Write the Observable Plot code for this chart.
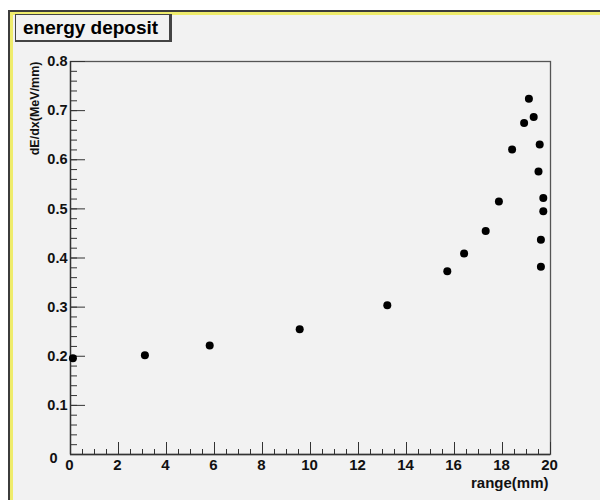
<!DOCTYPE html>
<html><head><meta charset="utf-8">
<script src="https://cdn.jsdelivr.net/npm/d3@7"></script>
<script src="https://cdn.jsdelivr.net/npm/@observablehq/plot@0.6"></script>
<style>
html,body{margin:0;padding:0;background:#fff;width:600px;height:500px;overflow:hidden;font-family:"Liberation Sans",Arial,sans-serif;}
#pad{position:absolute;left:8px;top:10px;width:640px;height:540px;background:#f2f2f2;border-left:2px solid #3c3c3c;border-top:2px solid #3c3c3c;box-shadow:inset 3px 3px 0 #efec6c;}
#title{position:absolute;left:15px;top:14px;width:146px;height:25px;border:1px solid #444;border-right-width:3px;border-bottom-width:2px;background:#f2f2f2;font-weight:bold;font-size:19px;line-height:25px;padding-left:7px;color:#000;z-index:2;white-space:nowrap;}
#chart{position:absolute;left:0;top:0;}
</style></head><body>
<div id="pad"></div>
<div id="chart"></div>
<div id="title">energy deposit</div>
<script>
// data
const rangeMm = [0.1, 3.1, 5.8, 9.55, 13.2, 15.7, 16.4, 17.3, 17.85, 18.4, 18.9, 19.1, 19.3, 19.55, 19.5, 19.7, 19.7, 19.6, 19.6];
const dEdx    = [0.196, 0.202, 0.222, 0.255, 0.304, 0.373, 0.409, 0.455, 0.515, 0.621, 0.675, 0.724, 0.687, 0.631, 0.576, 0.522, 0.495, 0.437, 0.382];

// tick values and labels
const xMajorTicks = [0, 2, 4, 6, 8, 10, 12, 14, 16, 18, 20];
const xTickLabels = ["0", "2", "4", "6", "8", "10", "12", "14", "16", "18", "20"];
const xMinorTicks = d3.range(0, 41).map(i => i * 0.5);
const yMajorTicks = [0.1, 0.2, 0.3, 0.4, 0.5, 0.6, 0.7, 0.8];
const yTickLabels = ["0.1", "0.2", "0.3", "0.4", "0.5", "0.6", "0.7", "0.8"];
const yZeroTick = [0];
const yZeroLabel = ["0"];
const yMinorTicks = d3.range(0, 41).map(i => i * 0.02);
const xTitle = "range(mm)";
const yTitle = "dE/dx(MeV/mm)";

const points = rangeMm.map((x, i) => ({x, y: dEdx[i]}));
const axisColor = "#333";
const labelStyle = {fontWeight: "bold", fill: "#111", stroke: null};

const chart = Plot.plot({
  width: 600,
  height: 500,
  marginLeft: 70,
  marginRight: 50,
  marginTop: 61,
  marginBottom: 46,
  style: {background: "transparent", fontFamily: "'Liberation Sans', Arial, sans-serif", color: "#111"},
  x: {domain: [0, 20], label: null},
  y: {domain: [0, 0.8], label: null},
  marks: [
    Plot.frame({stroke: "#555", strokeWidth: 1.3}),
    // x minor / major ticks (inward)
    Plot.axisX({ticks: xMinorTicks, tickSize: -5, tickFormat: () => "", label: null, stroke: axisColor}),
    Plot.axisX({ticks: xMajorTicks, tickSize: -12, tickFormat: () => "", label: null, stroke: axisColor}),
    // y minor / major ticks (inward)
    Plot.axisY({ticks: yMinorTicks, tickSize: -7, tickFormat: () => "", label: null, stroke: axisColor}),
    Plot.axisY({ticks: yMajorTicks, tickSize: -15, tickFormat: () => "", label: null, stroke: axisColor}),
    Plot.ruleY([0], {stroke: axisColor, strokeWidth: 1.3}),
    Plot.ruleX([0], {stroke: axisColor, strokeWidth: 1.3}),
    // tick labels
    Plot.text(xMajorTicks, {x: d => d, frameAnchor: "bottom", lineAnchor: "top", dy: 5, dx: -1,
      text: (d, i) => xTickLabels[i], fontSize: 15, ...labelStyle}),
    Plot.text(yMajorTicks, {y: d => d, frameAnchor: "left", textAnchor: "end", dx: -3,
      text: (d, i) => yTickLabels[i], fontSize: 14.5, ...labelStyle}),
    Plot.text(yZeroTick, {y: d => d, frameAnchor: "left", textAnchor: "end", dx: -13, dy: 4,
      text: (d, i) => yZeroLabel[i], fontSize: 14.5, ...labelStyle}),
    // axis titles
    Plot.text([xTitle], {frameAnchor: "bottom-right", textAnchor: "end", dx: -2, dy: 33,
      fontSize: 15, ...labelStyle}),
    Plot.text([yTitle], {frameAnchor: "top-left", rotate: -90, textAnchor: "end", dx: -40, dy: 0,
      fontSize: 12.5, ...labelStyle}),
    // data
    Plot.dot(points, {x: "x", y: "y", r: 4, fill: "#000", stroke: null})
  ]
});
document.getElementById("chart").appendChild(chart);
</script>
</body></html>
